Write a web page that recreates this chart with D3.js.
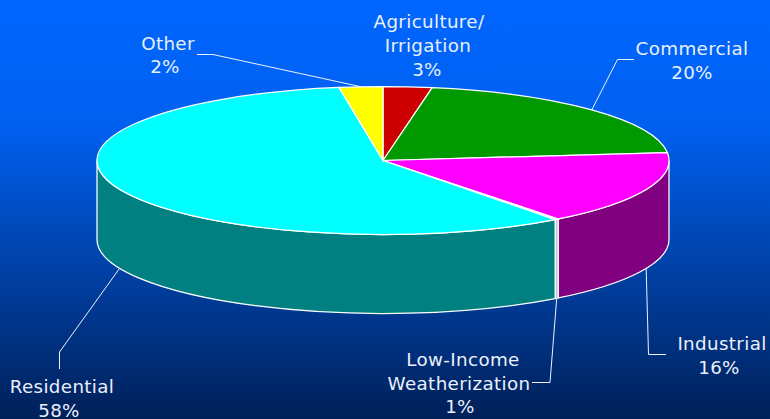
<!DOCTYPE html>
<html><head><meta charset="utf-8">
<script src="https://cdn.jsdelivr.net/npm/d3@7/dist/d3.min.js"></script>
<style>html,body{margin:0;padding:0;background:#002060}svg{display:block}</style>
</head><body><svg id="c" width="770" height="419"></svg>
<script>
// Data
const categories = ["Agriculture/Irrigation","Commercial","Industrial","Low-Income Weatherization","Residential","Other"];
const values = [2.75,20.55,16.2,0.22,57.82,2.46];
const labelLines = [["Agriculture/","Irrigation","3%"],["Commercial","20%"],["Industrial","16%"],["Low-Income","Weatherization","1%"],["Residential","58%"],["Other","2%"]];
const topColors = ["#cc0000","#009900","#ff00ff","#d8d8f0","#00ffff","#ffff00"];
const sideColors = ["#800000","#006600","#800080","#c8c8d8","#008080","#808000"];

// Layout
const W=770,H=419,cx=383,cy=160.5,rx=286,ry=74,depth=79;
const labelPos=[
 [[429,28],[428,52],[427,76]],
 [[692,55],[692,79]],
 [[722,350],[719,374]],
 [[463,366],[459,390],[460,413]],
 [[62,393],[59,417]],
 [[168,50],[165,73]]];
const elbows=[null,[[617.5,59.5],[634,59.5]],[[648.5,354.5],[666,354.5]],[[550,382.5],[532,382.5]],[[59.5,352],[59.5,369]],[[213,54.5],[197,54.5]]];

const svg=d3.select("#c");
const defs=svg.append("defs");
const grad=defs.append("linearGradient").attr("id","bg").attr("x1",0).attr("x2",0).attr("y1",0).attr("y2",1);
grad.append("stop").attr("offset",0).attr("stop-color","#0066ff");
grad.append("stop").attr("offset",0.3).attr("stop-color","#0060f0");
grad.append("stop").attr("offset",1).attr("stop-color","#002058");
svg.append("rect").attr("width",W).attr("height",H).attr("fill","url(#bg)");

const slices=d3.pie().sort(null).value(d=>d)(values);
const px=d3.scaleLinear().domain([-1,1]).range([cx-rx,cx+rx]);
const py=d3.scaleLinear().domain([-1,1]).range([cy-ry,cy+ry]);
const rim=(a,dy=0)=>[px(Math.sin(a)),py(-Math.cos(a))+dy];

// Side walls: front half of the rim only
slices.forEach((s,i)=>{
  const a0=Math.max(s.startAngle,Math.PI/2),a1=Math.min(s.endAngle,3*Math.PI/2);
  if(a1<=a0)return;
  const p0=rim(a0),p1=rim(a1),q0=rim(a0,depth),q1=rim(a1,depth);
  const large=(a1-a0)>Math.PI?1:0;
  const d=`M${p0}A${rx},${ry} 0 ${large} 1 ${p1}L${q1}A${rx},${ry} 0 ${large} 0 ${q0}Z`;
  svg.append("path").attr("d",d).attr("fill",sideColors[i]).attr("stroke","#fff").attr("stroke-width",1.25);
});
// Top face
const arc=d3.arc().innerRadius(0).outerRadius(rx);
const face=svg.append("g").attr("transform",`translate(${cx},${cy}) scale(1,${ry/rx})`);
face.selectAll("path").data(slices).join("path")
  .attr("d",arc).attr("fill",(d,i)=>topColors[i])
  .attr("stroke","#fff").attr("stroke-width",1.25).attr("vector-effect","non-scaling-stroke");

// Leader lines from each slice's mid angle
const line=d3.line();
slices.forEach((s,i)=>{
  if(!elbows[i])return;
  const mid=(s.startAngle+s.endAngle)/2;
  const front=mid>Math.PI/2&&mid<3*Math.PI/2;
  const start=rim(mid,front?depth:0);
  svg.append("path").attr("d",line([start,...elbows[i]])).attr("fill","none").attr("stroke","#eef2fb").attr("stroke-width",1);
});
// Labels
labelLines.forEach((lines,i)=>{
  lines.forEach((t,j)=>{
    svg.append("text").attr("x",labelPos[i][j][0]).attr("y",labelPos[i][j][1])
      .attr("text-anchor","middle").attr("fill","#eaf0fb")
      .attr("font-family","'DejaVu Sans'").attr("font-size",18.3).attr("letter-spacing",0.35).text(t);
  });
});
</script></body></html>
